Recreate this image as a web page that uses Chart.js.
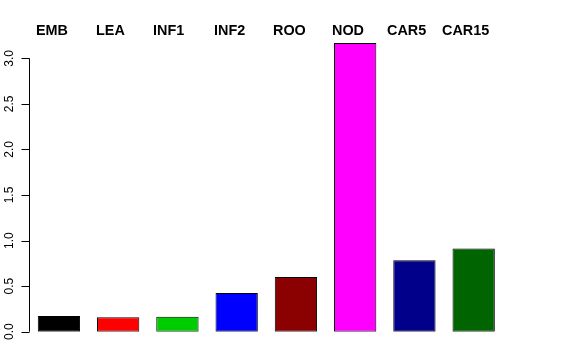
<!DOCTYPE html>
<html lang="en">
  <head>
    <meta charset="UTF-8" />
    <title>Bar chart</title>
    <style>
      body {
        margin: 0;
        background-color: #fff;
      }
      #barChart {
        display: block;
      }
    </style>
  </head>
  <body>
    <canvas id="barChart" width="576" height="360"></canvas>
    <script src="https://cdn.jsdelivr.net/npm/chart.js"></script>
    <script>
      // data
      const groups = ["EMB", "LEA", "INF1", "INF2", "ROO", "NOD", "CAR5", "CAR15"];
      const values = [0.172, 0.158, 0.165, 0.425, 0.601, 3.168, 0.784, 0.912];
      const barColors = ["#000000", "#ff0000", "#00cd00", "#0000ff", "#8b0000", "#ff00ff", "#00008b", "#006400"];
      const yTicks = [0, 0.5, 1, 1.5, 2, 2.5, 3];

      // header labels sit at their own x positions (left edge of each word)
      const headerX = [36, 96, 153, 214, 273, 332, 387, 442];

      const fontFamily = "'Liberation Sans', Arial, sans-serif";

      // R style left axis: line, outward ticks, labels rotated
      const rAxis = {
        id: "rAxis",
        afterDraw(chart) {
          const ctx = chart.ctx;
          const y = chart.scales.y;
          const axisX = 29.5;
          ctx.save();
          ctx.strokeStyle = "#000";
          ctx.lineWidth = 1;
          ctx.beginPath();
          ctx.moveTo(axisX, y.getPixelForValue(yTicks[0]));
          ctx.lineTo(axisX, y.getPixelForValue(yTicks[yTicks.length - 1]));
          yTicks.forEach((t) => {
            const py = Math.round(y.getPixelForValue(t)) + 0.5;
            ctx.moveTo(axisX, py);
            ctx.lineTo(axisX - 8, py);
          });
          ctx.stroke();

          ctx.fillStyle = "#000";
          ctx.font = "12px " + fontFamily;
          ctx.textAlign = "center";
          ctx.textBaseline = "alphabetic";
          yTicks.forEach((t) => {
            ctx.save();
            ctx.translate(13, y.getPixelForValue(t));
            ctx.rotate(-Math.PI / 2);
            ctx.fillText(t.toFixed(1), 0, 0);
            ctx.restore();
          });

          ctx.font = "bold 14.4px " + fontFamily;
          ctx.textAlign = "left";
          groups.forEach((g, i) => {
            ctx.fillText(g, headerX[i], 35);
          });
          ctx.restore();
        },
      };

      new Chart(document.getElementById("barChart"), {
        type: "bar",
        data: {
          labels: groups,
          datasets: [
            {
              data: values,
              backgroundColor: barColors,
              borderColor: "#000",
              borderWidth: 1,
              borderSkipped: false,
              barPercentage: 0.714,
              categoryPercentage: 1,
            },
          ],
        },
        options: {
          responsive: false,
          animation: false,
          layout: {
            padding: { left: 29.3, right: 72.7, top: 40.1, bottom: 28.3 },
          },
          plugins: {
            legend: { display: false },
            tooltip: { enabled: false },
          },
          scales: {
            x: { display: false, offset: true },
            y: { display: false, min: 0, max: 3.2 },
          },
        },
        plugins: [rAxis],
      });
    </script>
  </body>
</html>
